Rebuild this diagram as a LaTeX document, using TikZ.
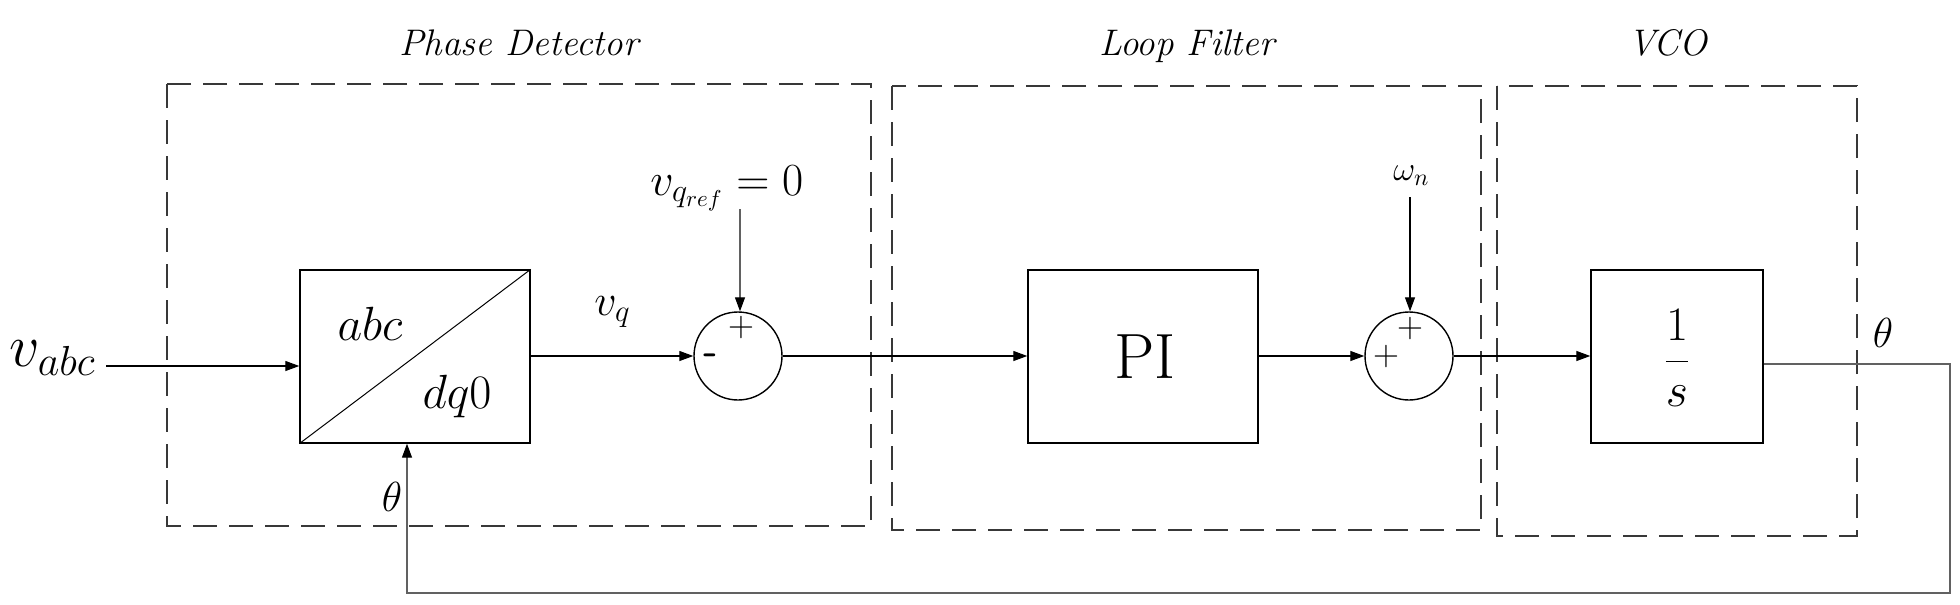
\documentclass[tikz,border=0pt]{standalone}
\usepackage{fix-cm}
\usetikzlibrary{arrows.meta}
\newcommand\fsz[1]{\fontsize{#1}{#1}\selectfont}
\begin{document}
\begin{tikzpicture}[x=0.5pt,y=-0.5pt,
  tf/.style={draw=black,line width=0.7pt,inner sep=0pt,minimum height=86.5pt},
  sumc/.style={circle,draw=black,line width=0.7pt,minimum size=44pt,inner sep=0pt},
  dbox/.style={draw=black!78,line width=0.9pt,dash pattern=on 12pt off 6pt},
  conn/.style={line width=0.6pt,-{Triangle[length=7pt,width=5pt]}},
  gconn/.style={line width=0.6pt,draw=black!62,-{Triangle[length=7pt,width=5pt,color=black]}},
  ttl/.style={font=\fsz{18.5}\itshape,anchor=base,inner sep=0pt},
  sgn/.style={font=\fsz{18},inner sep=0pt},
  lbl/.style={inner sep=0pt}
]
\useasboundingbox (0,0) rectangle (1960,605);

% dashed groups
\draw[dbox] (167,84) rectangle (871,526);
\draw[dbox] (892,86) rectangle (1481,530);
\draw[dbox] (1497,86) rectangle (1857,536);
\node[ttl] (tpd) at (519,55) {Phase Detector};
\node[ttl] (tlf) at (1187,55) {Loop Filter};
\node[ttl] (tvco) at (1668,55) {VCO};

% abc/dq0 transform
\node[tf,minimum width=115pt] (T) at (415,356.5) {};
\draw[line width=0.5pt] (T.south west) -- (T.north east);
\node[lbl,font=\fsz{24}] (abcl) at (370,324) {$abc$};
\node[lbl,font=\fsz{24}] (dql) at (457,396) {$dq0$};

% input
\node[lbl,font=\fsz{30},anchor=base west] (vabc) at (9,366) {$v_{abc}$};
\coordinate (vin) at (106,366);
\draw[conn] (vin) -- (vin -| T.west);

% first summing junction
\node[sumc] (S1) at (738,356) {};
\draw[conn] (T.east |- S1) -- (S1.west);
\node[lbl,font=\fsz{22},anchor=base west] (vq) at (594,315) {$v_q$};
\node[lbl,font=\fsz{23},anchor=base west] (vqr) at (650,195) {$v_{q_{ref}} = 0$};
\coordinate (vqrin) at (740,209);
\draw[gconn] (vqrin) -- (vqrin |- S1.north);
\node[sgn] (p1) at (741,327) {$+$};
\node[lbl,font=\fsz{20}\sffamily\bfseries] (m1) at (711,359) {-};

% PI
\node[tf,minimum width=115pt] (PI) at (1143,356.5) {};
\node[lbl,font=\fsz{32}] (pil) at (1145,357) {$\mathrm{PI}$};
\draw[conn] (S1.east) -- (S1.east -| PI.west);

% second summing junction
\node[sumc] (S2) at (1409,356) {};
\draw[conn] (PI.east |- S2) -- (S2.west);
\node[lbl,font=\fsz{17},anchor=base west] (wn) at (1393,180) {$\omega_n$};
\coordinate (wnin) at (1410,197);
\draw[conn] (wnin) -- (wnin |- S2.north);
\node[sgn] (p2) at (1410,328) {$+$};
\node[sgn] (p3) at (1386,356) {$+$};

% integrator
\node[tf,minimum width=86pt] (V) at (1677,356.5) {};
\node[lbl,font=\fsz{24}] (vl) at (1677,358) {$\displaystyle\frac{1}{s}$};
\draw[conn] (S2.east) -- (S2.east -| V.west);

% output and feedback
\node[lbl,font=\fsz{21}] (th2) at (1883,333) {$\theta$};
\node[lbl,font=\fsz{21}] (th1) at (392,497) {$\theta$};
\coordinate (fb1) at (1950,364);
\coordinate (fb2) at (1950,593);
\coordinate (fb3) at (407,593);
\draw[gconn] (V.east |- fb1) -- (fb1) -- (fb2) -- (fb3) -- (fb3 |- T.south);
\end{tikzpicture}
\end{document}
